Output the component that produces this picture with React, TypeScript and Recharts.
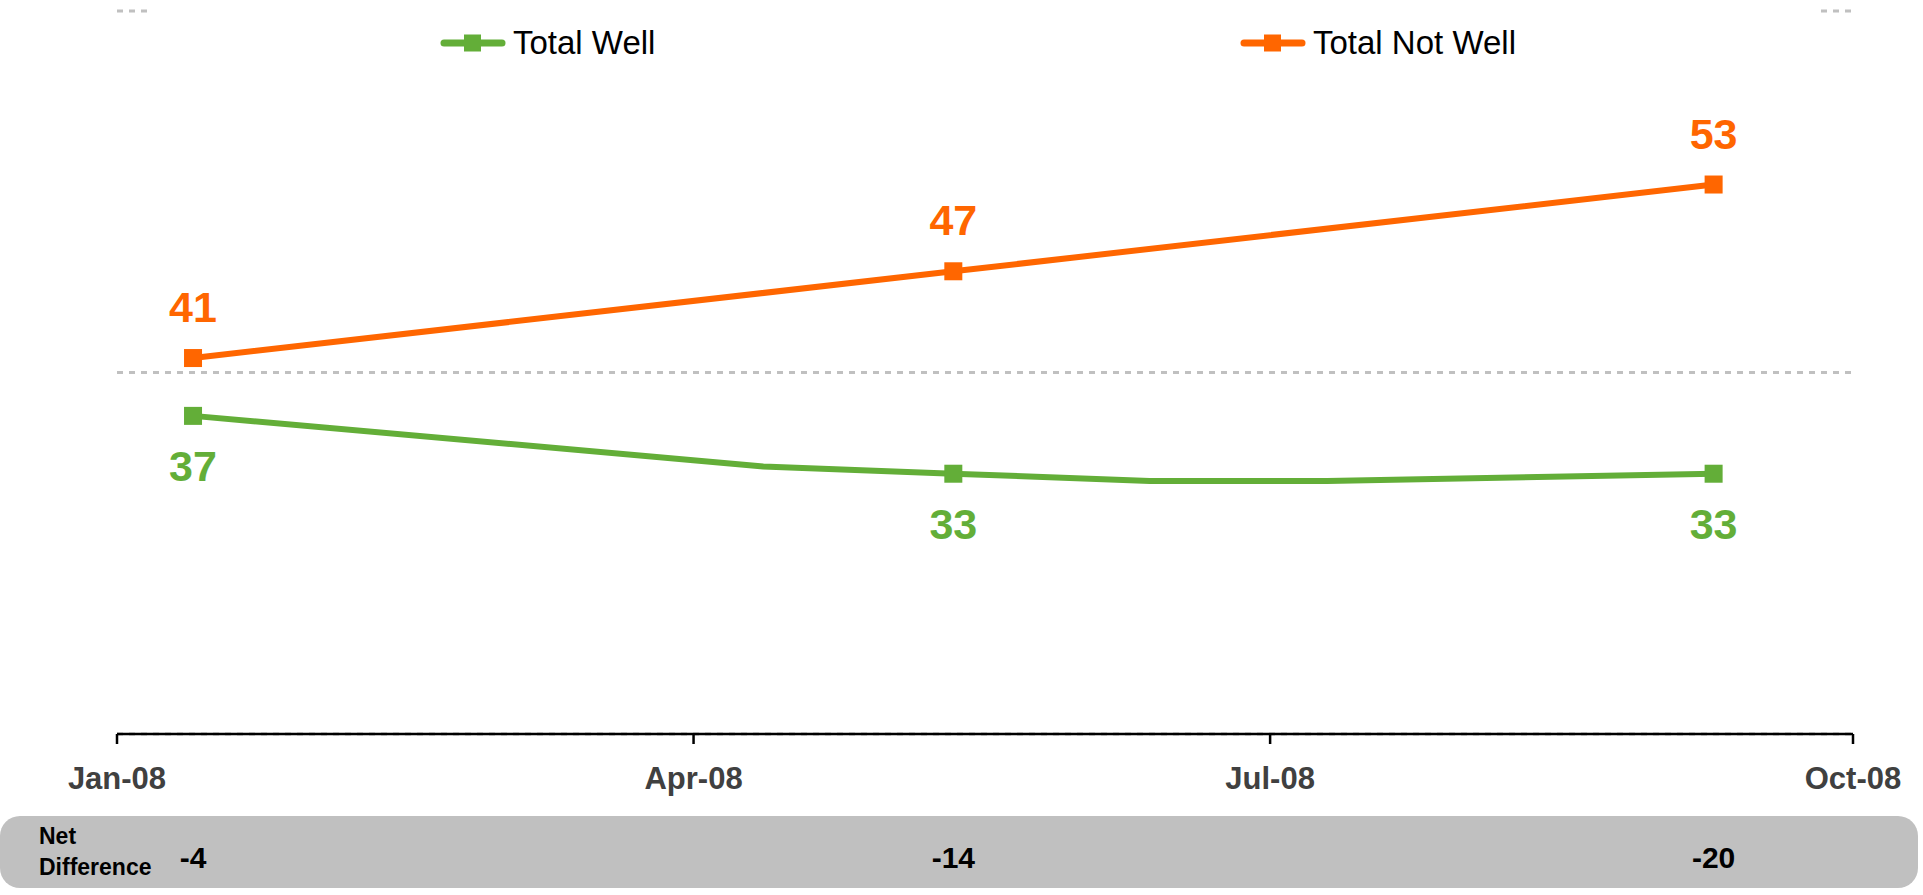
import React from 'react';
import { LineChart, Line, XAxis, YAxis, CartesianGrid, Legend, LabelList } from 'recharts';

// survey dates (green line has a few unmarked points in between)
const surveyDates = ['2008-01-13', '2008-04-12', '2008-05-12', '2008-06-12', '2008-07-10', '2008-09-09'];
const totalWell = [37, 33.5, 33, 32.5, 32.5, 33];
const totalNotWell = [41, null, 47, null, null, 53];
const markedPoint = [true, false, true, false, false, true];

const netDates = ['2008-01-13', '2008-05-12', '2008-09-09'];
const netDifference = [-4, -14, -20];

const tickDates = ['2008-01-01', '2008-04-01', '2008-07-01', '2008-10-01'];
const tickLabels = ['Jan-08', 'Apr-08', 'Jul-08', 'Oct-08'];

const yTicks = [15, 40, 65];

const legendOrder = ['Total Well', 'Total Not Well'];

const GREEN = '#63AE38';
const ORANGE = '#FF6600';
const FONT = '"Liberation Sans", Arial, sans-serif';

const ts = (d: string) => new Date(d).getTime();

const data = surveyDates.map((d, i) => ({
  t: ts(d),
  well: totalWell[i],
  notWell: totalNotWell[i],
}));

const tickValues = tickDates.map(ts);
const netValues = netDates.map(ts);

const squareDot = (color: string) => (props: any) => {
  const { cx, cy, index } = props;
  if (!markedPoint[index] || cx == null || cy == null) return <g key={`d-${index}`} />;
  return <rect key={`d-${index}`} x={cx - 9} y={cy - 9} width={18} height={18} fill={color} />;
};

const valueLabel = (color: string, dy: number) => (props: any) => {
  const { x, y, value, index } = props;
  if (!markedPoint[index] || value == null) return null;
  return (
    <text x={x} y={y + dy} textAnchor="middle" fill={color} fontSize={43} fontWeight="bold" fontFamily={FONT}>
      {value}
    </text>
  );
};

const legendPos = [293, 1093];

const renderLegend = (props: any) => {
  const payload = [...(props.payload || [])].sort(
    (a: any, b: any) => legendOrder.indexOf(a.value) - legendOrder.indexOf(b.value)
  );
  return (
    <div style={{ position: 'relative', width: '100%', height: '100%' }}>
      {payload.map((entry: any, i: number) => (
        <div
          key={entry.value}
          style={{ position: 'absolute', left: legendPos[i], top: 24, display: 'flex', alignItems: 'center', height: 38 }}
        >
          <svg width={66} height={20} style={{ display: 'block' }}>
            <line x1={4} y1={10} x2={62} y2={10} stroke={entry.color} strokeWidth={7} strokeLinecap="round" />
            <rect x={24} y={1.5} width={17} height={17} fill={entry.color} />
          </svg>
          <span style={{ marginLeft: 7, fontSize: 33, fontFamily: FONT, color: '#000', lineHeight: '38px' }}>
            {entry.value}
          </span>
        </div>
      ))}
    </div>
  );
};

export default function App() {
  return (
    <div style={{ position: 'absolute', left: 0, top: 0, width: 1923, height: 895, background: '#fff', overflow: 'hidden' }}>
      <div
        style={{
          position: 'absolute',
          left: 0,
          top: 816,
          width: 1918,
          height: 72,
          borderRadius: 20,
          background: '#c0c0c0',
        }}
      >
        <div
          style={{
            position: 'absolute',
            left: 39,
            top: 5,
            fontFamily: FONT,
            fontWeight: 'bold',
            fontSize: 23,
            lineHeight: '31px',
            color: '#000',
          }}
        >
          Net
          <br />
          Difference
        </div>
      </div>
      <div style={{ position: 'absolute', left: 0, top: 0 }}>
        <LineChart
          width={1923}
          height={895}
          data={data}
          margin={{ top: 11, right: 70, left: 117, bottom: 6 }}
        >
          <CartesianGrid vertical={false} stroke="#c0c0c0" strokeWidth={3} strokeDasharray="6 6" />
          <YAxis hide domain={[15, 65]} ticks={yTicks} type="number" />
          <XAxis
            dataKey="t"
            type="number"
            domain={[tickValues[0], tickValues[tickValues.length - 1]]}
            ticks={tickValues}
            tickFormatter={(v: number) => tickLabels[tickValues.indexOf(v)]}
            height={75}
            stroke="#000"
            strokeWidth={2.5}
            tickSize={10}
            tickMargin={23}
            tick={{ fill: '#404040', fontSize: 31, fontWeight: 'bold', fontFamily: FONT }}
          />
          <XAxis
            xAxisId="net"
            dataKey="t"
            type="number"
            domain={[tickValues[0], tickValues[tickValues.length - 1]]}
            ticks={netValues}
            tickFormatter={(v: number) => String(netDifference[netValues.indexOf(v)])}
            height={80}
            axisLine={false}
            tickLine={false}
            tickSize={0}
            tickMargin={38}
            tick={{ fill: '#000', fontSize: 30, fontWeight: 'bold', fontFamily: FONT }}
          />
          <Legend
            verticalAlign="middle"
            align="center"
            layout="horizontal"
            content={renderLegend}
            wrapperStyle={{ position: 'absolute', top: 0, left: 147, width: 1668, height: 64, background: '#fff' }}
          />
          <Line
            name="Total Well"
            dataKey="well"
            stroke={GREEN}
            strokeWidth={6}
            dot={squareDot(GREEN)}
            activeDot={false}
            isAnimationActive={false}
          >
            <LabelList dataKey="well" content={valueLabel(GREEN, 65)} />
          </Line>
          <Line
            name="Total Not Well"
            dataKey="notWell"
            stroke={ORANGE}
            strokeWidth={6}
            connectNulls
            dot={squareDot(ORANGE)}
            activeDot={false}
            isAnimationActive={false}
          >
            <LabelList dataKey="notWell" content={valueLabel(ORANGE, -36)} />
          </Line>
        </LineChart>
      </div>
    </div>
  );
}
